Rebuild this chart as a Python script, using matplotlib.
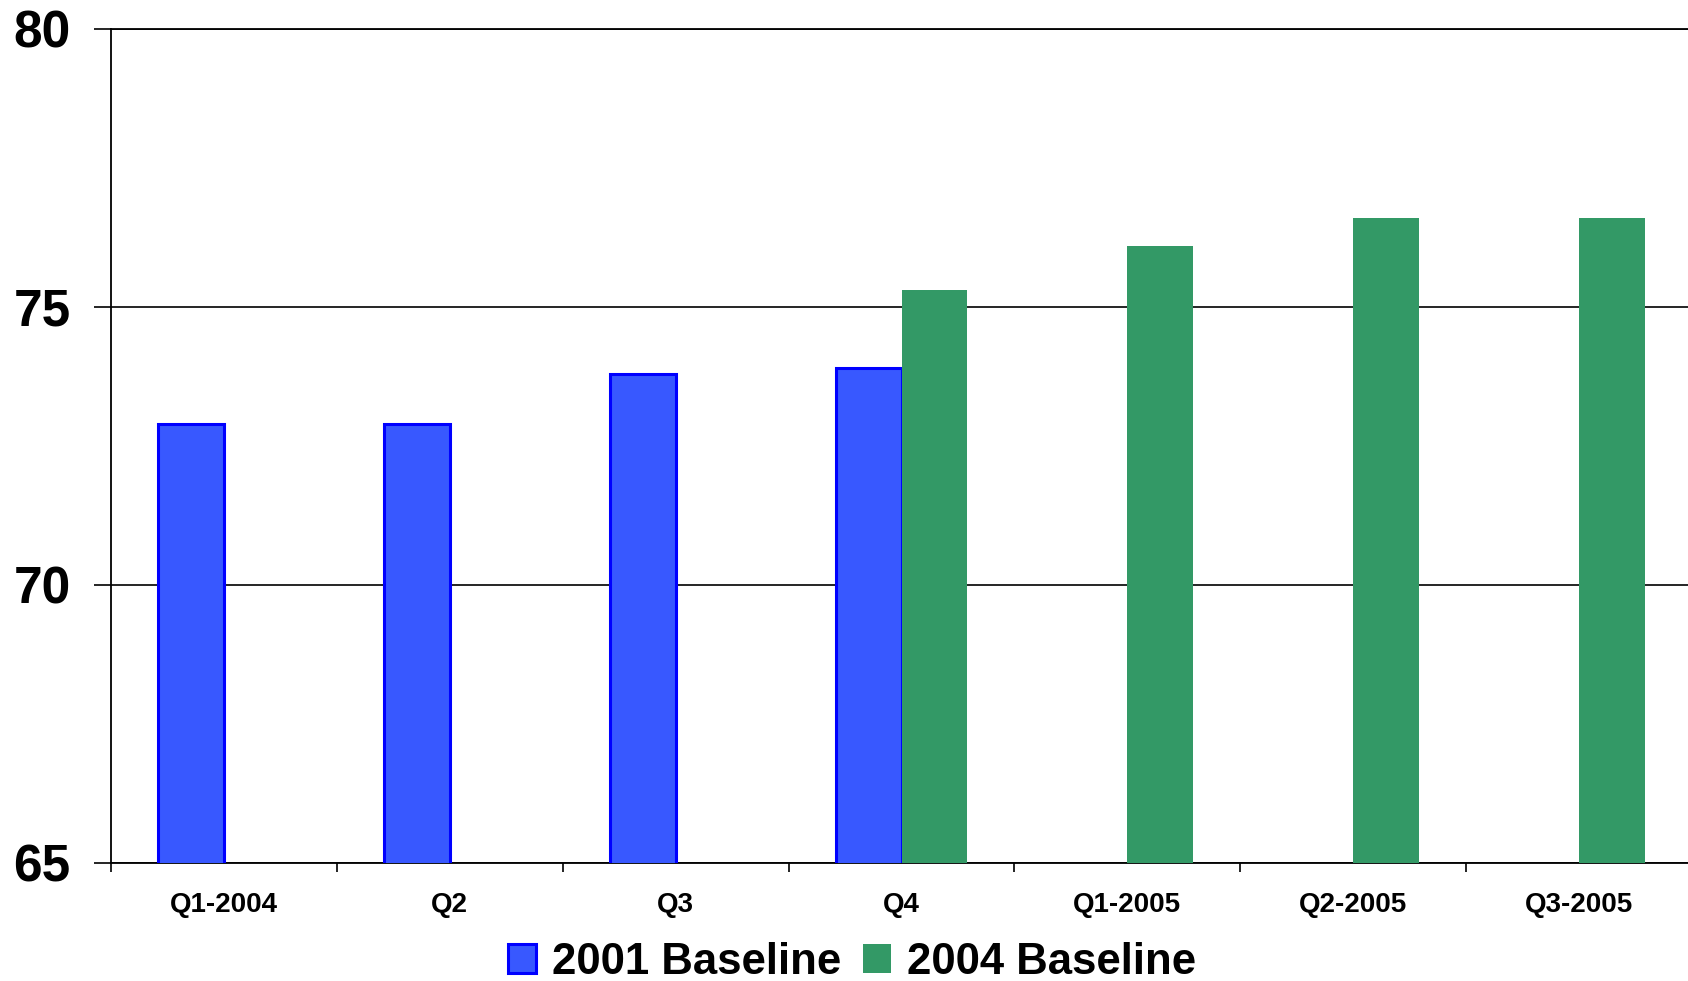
import numpy as np
import matplotlib
matplotlib.use("Agg")
import matplotlib.pyplot as plt

categories = ["Q1-2004", "Q2", "Q3", "Q4", "Q1-2005", "Q2-2005", "Q3-2005"]
baseline_2001 = [72.9, 72.9, 73.8, 73.9, np.nan, np.nan, np.nan]
baseline_2004 = [np.nan, np.nan, np.nan, 75.3, 76.1, 76.6, 76.6]
series_names = ["2001 Baseline", "2004 Baseline"]
y_ticks = [65, 70, 75, 80]

plt.rcParams["font.family"] = ["Liberation Sans", "DejaVu Sans"]
plt.rcParams["font.weight"] = "bold"

fig = plt.figure(figsize=(16.88, 9.81), dpi=100)
ax = fig.add_axes([111 / 1688, 118.5 / 981, 1581 / 1688, 833.5 / 981])

x = np.arange(len(categories))
w = 0.29
b1 = ax.bar(x - w / 2, baseline_2001, width=w, color="#3858FF",
            edgecolor="#0000FF", linewidth=2.2, label=series_names[0], zorder=3)
b2 = ax.bar(x + w / 2, baseline_2004, width=w, color="#339966",
            edgecolor="#339966", linewidth=0.0, label=series_names[1], zorder=3)

ax.set_xlim(-0.5, len(categories) - 0.5)
ax.set_ylim(y_ticks[0], y_ticks[-1])
ax.set_yticks(y_ticks)
ax.set_yticklabels([str(t) for t in y_ticks], fontsize=37, fontweight="bold")
ax.tick_params(axis="y", direction="out", length=12, width=1.2, pad=17, colors="black")

# category boundaries carry the tick marks, centres carry the labels
ax.set_xticks(np.arange(-0.5, len(categories) - 0.5, 1.0))
ax.set_xticklabels([])
ax.set_xticks(x, minor=True)
ax.set_xticklabels(categories, minor=True, fontsize=20, fontweight="bold")
ax.tick_params(axis="x", which="major", direction="out", length=6.5, width=1.2)
ax.tick_params(axis="x", which="minor", length=0, pad=21.5)

ax.yaxis.grid(True, color="black", linewidth=1.2)
ax.set_axisbelow(True)
ax.spines["right"].set_visible(False)
for side in ["left", "bottom", "top"]:
    ax.spines[side].set_color("black")
    ax.spines[side].set_linewidth(1.3)

fig.legend(handles=[b1, b2], labels=series_names, loc="center",
           bbox_to_anchor=(852 / 1688, 19 / 981), ncol=2, frameon=False,
           prop={"size": 31.5, "weight": "bold"}, handlelength=0.64,
           handleheight=0.64, handletextpad=0.36, columnspacing=0.5,
           borderpad=0, borderaxespad=0)

fig.savefig("out.png", dpi=100)
